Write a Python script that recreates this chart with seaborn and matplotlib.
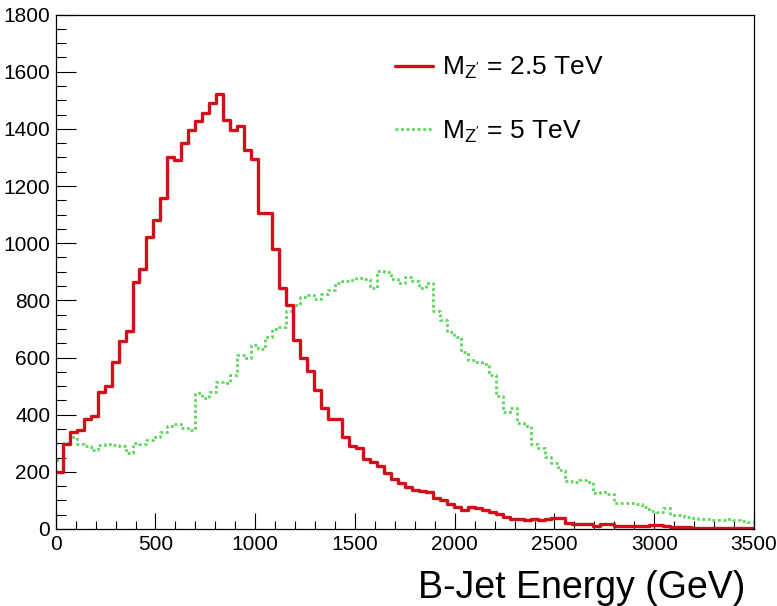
import numpy as np
import pandas as pd
import matplotlib
matplotlib.use("Agg")
import matplotlib.pyplot as plt
import seaborn as sns
from matplotlib.ticker import MultipleLocator
from matplotlib.lines import Line2D

# ---------------- data ----------------
bin_width = 35          # GeV
x_min, x_max = 0, 3500
y_min, y_max = 0, 1800

red_counts = [
    200, 298, 340, 348, 386, 397, 481, 499, 583, 656,
    691, 864, 909, 1023, 1082, 1157, 1300, 1292, 1349, 1395,
    1427, 1456, 1491, 1523, 1430, 1395, 1409, 1325, 1293, 1104,
    1104, 978, 842, 783, 661, 597, 554, 486, 422, 384,
    384, 323, 290, 285, 244, 233, 220, 195, 175, 160,
    148, 138, 134, 130, 107, 100, 88, 78, 68, 78,
    75, 68, 60, 52, 42, 36, 34, 33, 34, 32,
    36, 37, 37, 21, 19, 19, 16, 12, 18, 16,
    10, 10, 9, 10, 10, 13, 13, 11, 6, 6,
    6, 3, 3, 3, 2, 3, 3, 4, 3, 3,
]
green_counts = [
    240, 300, 322, 298, 290, 278, 295, 298, 294, 290,
    266, 300, 296, 310, 322, 340, 360, 366, 352, 345,
    475, 458, 478, 515, 510, 540, 608, 597, 645, 628,
    670, 698, 705, 762, 785, 810, 820, 806, 822, 836,
    860, 866, 870, 878, 875, 842, 904, 898, 874, 860,
    880, 868, 842, 860, 762, 730, 688, 672, 620, 592,
    585, 579, 540, 464, 410, 425, 372, 362, 296, 282,
    253, 232, 205, 168, 166, 172, 166, 126, 131, 122,
    92, 92, 90, 86, 76, 63, 60, 72, 50, 48,
    42, 40, 35, 34, 31, 30, 34, 32, 27, 25,
]
series_labels = [r"M$_{\mathrm{Z'}}$ = 2.5 TeV", r"M$_{\mathrm{Z'}}$ = 5 TeV"]
x_label = "B-Jet Energy (GeV)"

n_bins = len(red_counts)
centers = x_min + bin_width * (np.arange(n_bins) + 0.5)

df = pd.DataFrame({
    "energy": np.concatenate([centers, centers]),
    "count": np.array(red_counts + green_counts, dtype=float),
    "sample": [series_labels[0]] * n_bins + [series_labels[1]] * n_bins,
})

# ---------------- style ----------------
sns.set_style("white")
plt.rcParams["font.family"] = ["Liberation Sans", "DejaVu Sans"]
plt.rcParams["mathtext.fontset"] = "custom"
plt.rcParams["mathtext.rm"] = "Liberation Sans"
plt.rcParams["mathtext.it"] = "Liberation Sans:italic"
plt.rcParams["mathtext.bf"] = "Liberation Sans:bold"
plt.rcParams["text.color"] = "black"
plt.rcParams["axes.labelcolor"] = "black"
plt.rcParams["xtick.color"] = "black"
plt.rcParams["ytick.color"] = "black"

red = "#d0101a"
green = "#5cd65c"

fig = plt.figure(figsize=(7.77, 6.06), dpi=100)
ax = fig.add_axes([55.7 / 777, 1 - 529 / 606, (754 - 55.7) / 777, (529 - 14.5) / 606])

sns.histplot(data=df[df["sample"] == series_labels[1]], x="energy", weights="count",
             binwidth=bin_width, binrange=(x_min, x_max), element="step", fill=False,
             color=green, linewidth=2.0, linestyle=(0, (1, 1)), ax=ax)
sns.histplot(data=df[df["sample"] == series_labels[0]], x="energy", weights="count",
             binwidth=bin_width, binrange=(x_min, x_max), element="step", fill=False,
             color=red, linewidth=2.4, ax=ax)

ax.set_xlim(x_min, x_max)
ax.set_ylim(y_min, y_max)
ax.set_ylabel("")

ax.xaxis.set_major_locator(MultipleLocator(500))
ax.xaxis.set_minor_locator(MultipleLocator(100))
ax.yaxis.set_major_locator(MultipleLocator(200))
ax.yaxis.set_minor_locator(MultipleLocator(50))

ax.tick_params(axis="x", which="major", direction="in", length=11.5, width=0.8,
               labelsize=15, pad=4, bottom=True, top=False, colors="black")
ax.tick_params(axis="x", which="minor", direction="in", length=5.8, width=0.8,
               bottom=True, top=False, colors="black")
ax.tick_params(axis="y", which="major", direction="in", length=14.4, width=0.8,
               labelsize=15, pad=4, left=True, right=False, colors="black")
ax.tick_params(axis="y", which="minor", direction="in", length=7.2, width=0.8,
               left=True, right=False, colors="black")

for s in ax.spines.values():
    s.set_color("black")
    s.set_linewidth(0.9)

ax.set_xlabel(x_label, fontsize=27, ha="right", va="baseline", color="black")
ax.xaxis.set_label_coords((745 - 55.7) / (754 - 55.7), (529 - 598) / (529 - 14.5))

handles = [Line2D([], [], color=red, linewidth=2.4),
           Line2D([], [], color=green, linewidth=2.0, linestyle=(0, (1, 1)))]
ax.legend(handles, series_labels, loc="upper left",
          bbox_to_anchor=((395 - 55.7) / 698.3, 1 - (55 - 14.5) / 514.5),
          frameon=False, fontsize=19, handlelength=1.45, handletextpad=0.35,
          labelspacing=1.42, borderpad=0, borderaxespad=0)

fig.savefig("out.png", dpi=100)
